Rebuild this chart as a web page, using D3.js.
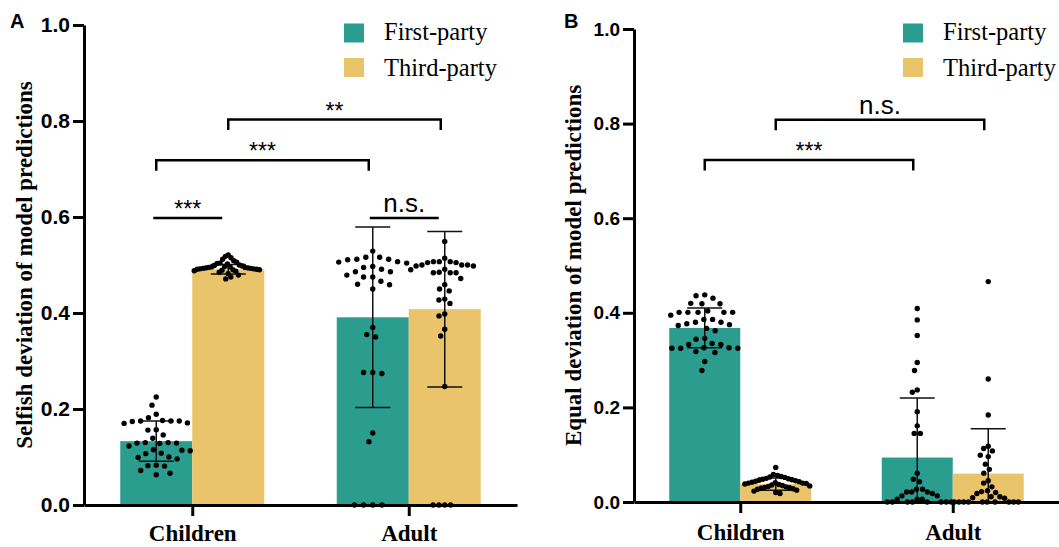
<!DOCTYPE html>
<html>
<head>
<meta charset="utf-8">
<script src="https://cdn.jsdelivr.net/npm/d3@7"></script>
<style>
  body { margin: 0; background: #fff; }
  svg { display: block; }
</style>
</head>
<body>
<svg id="chart" width="1059" height="547"></svg>
<script>
// categories
const groups = ['Children', 'Adult'];
const conditions = ['First-party', 'Third-party'];
const yTicks = [0, 0.2, 0.4, 0.6, 0.8, 1.0];

// panel A - selfish deviation, bar heights and SD  [group][condition]
const selfishMean = [[0.133, 0.491], [0.391, 0.408]];
const selfishSD = [[0.042, 0.010], [0.188, 0.162]];

// individual participants
const selfishChildFirst = [0.225, 0.208, 0.189, 0.182, 0.175, 0.175, 0.176, 0.174, 0.175, 0.171, 0.170,
  0.157, 0.156, 0.146, 0.139, 0.129, 0.130, 0.128, 0.129, 0.130, 0.123, 0.115, 0.114, 0.113, 0.108,
  0.107, 0.100, 0.099, 0.096, 0.082, 0.081, 0.083, 0.072, 0.066, 0.063];
const selfishChildThird = [0.521, 0.518, 0.515, 0.512, 0.509, 0.506, 0.504, 0.503, 0.502, 0.500, 0.499,
  0.498, 0.497, 0.496, 0.496, 0.495, 0.495, 0.494, 0.494, 0.493, 0.493, 0.492, 0.492, 0.491, 0.491,
  0.490, 0.490, 0.489, 0.488, 0.487, 0.485, 0.482, 0.479, 0.475, 0.471];
const selfishAdultFirst = [0.529, 0.504, 0.507, 0.512, 0.506, 0.516, 0.511, 0.512, 0.516, 0.486, 0.497,
  0.486, 0.495, 0.491, 0.475, 0.475, 0.466, 0.479, 0.459, 0.460, 0.450, 0.370, 0.350, 0.355, 0.276,
  0.276, 0.274, 0.150, 0.132, 0, 0, 0, 0];
const selfishAdultThird = [0.549, 0.514, 0.507, 0.505, 0.500, 0.498, 0.507, 0.500, 0.507, 0.491, 0.490,
  0.500, 0.505, 0.498, 0.484, 0.484, 0.484, 0.485, 0.472, 0.459, 0.450, 0.446, 0.429, 0.427, 0.420,
  0.398, 0.394, 0.366, 0.352, 0.247, 0, 0, 0, 0];

// panel B - equal deviation
const equalMean = [[0.368, 0.038], [0.094, 0.060]];
const equalSD = [[0.042, 0.013], [0.126, 0.095]];

const equalChildFirst = [0.436, 0.431, 0.438, 0.419, 0.419, 0.420, 0.401, 0.401, 0.401, 0.401, 0.401,
  0.395, 0.404, 0.386, 0.386, 0.380, 0.375, 0.380, 0.373, 0.377, 0.362, 0.367, 0.344, 0.346, 0.333,
  0.335, 0.333, 0.325, 0.318, 0.316, 0.325, 0.326, 0.326, 0.325, 0.297, 0.278];
const equalChildThird = [0.073, 0.058, 0.056, 0.054, 0.053, 0.052, 0.050, 0.049, 0.048, 0.047, 0.046,
  0.045, 0.044, 0.043, 0.042, 0.041, 0.040, 0.040, 0.039, 0.038, 0.037, 0.036, 0.035, 0.034, 0.033,
  0.032, 0.031, 0.030, 0.029, 0.028, 0.027, 0.025, 0.023, 0.020, 0.018];
const equalAdultFirst = [0.409, 0.385, 0.352, 0.295, 0.278, 0.237, 0.232, 0.191, 0.161, 0.145, 0.145,
  0.061, 0.048, 0.043, 0.027, 0.027, 0.021, 0.021, 0.021, 0.018, 0.013, 0.013, 0.006, 0.006, 0.006,
  0, 0, 0, 0, 0, 0, 0, 0];
const equalAdultThird = [0.466, 0.260, 0.184, 0.118, 0.113, 0.108, 0.099, 0.096, 0.080, 0.069, 0.061,
  0.045, 0.040, 0.032, 0.022, 0.020, 0.024, 0.018, 0.011, 0.011, 0.009, 0.008,
  0, 0, 0, 0, 0, 0, 0, 0, 0, 0];

// significance marks: from/to = [group, condition], level in axis units
const selfishSig = [
  { from: [0, 0], to: [0, 1], level: 0.598, label: '***', bracket: false },
  { from: [1, 0], to: [1, 1], level: 0.598, label: 'n.s.', bracket: false },
  { from: [0, 0], to: [1, 0], level: 0.718, label: '***', bracket: true },
  { from: [0, 1], to: [1, 1], level: 0.803, label: '**', bracket: true }
];
const equalSig = [
  { from: [0, 0], to: [1, 0], level: 0.723, label: '***', bracket: true },
  { from: [0, 1], to: [1, 1], level: 0.808, label: 'n.s.', bracket: true }
];

const colors = ['#2A9D8F', '#E9C46A'];
const serif = '"Liberation Serif", "Times New Roman", serif';
const sans = '"Liberation Sans", Arial, sans-serif';

const svg = d3.select('#chart');

// simple beeswarm: closest free offset to the centre, then squeezed to fit the bar
function swarm(values, y, D, maxHalf) {
  const pts = values.map(v => ({ v: v, py: y(v), dx: 0 })).sort((a, b) => a.py - b.py);
  const placed = [];
  pts.forEach(p => {
    const near = placed.filter(q => Math.abs(q.py - p.py) < D);
    const cands = [0];
    near.forEach(q => {
      const w = Math.sqrt(D * D - (q.py - p.py) ** 2);
      cands.push(q.dx - w, q.dx + w);
    });
    cands.sort((a, b) => Math.abs(a) - Math.abs(b));
    p.dx = cands.find(c => near.every(q => (q.dx - c) ** 2 + (q.py - p.py) ** 2 >= D * D - 0.01));
    placed.push(p);
  });
  const m = d3.max(pts, p => Math.abs(p.dx));
  if (m > maxHalf) pts.forEach(p => { p.dx *= maxHalf / m; });
  return pts;
}

function drawPanel(cfg) {
  const g = svg.append('g');

  const x = d3.scalePoint().domain(groups).range([cfg.left, cfg.right]).padding(0.5);
  const xc = d3.scaleBand().domain(conditions).range([-cfg.barW, cfg.barW]);
  const y = d3.scaleLinear().domain([0, 1]).range([cfg.bottom, cfg.top]);
  const cx = (gi, ci) => x(groups[gi]) + xc(conditions[ci]) + xc.bandwidth() / 2;

  // bars
  groups.forEach((grp, gi) => {
    conditions.forEach((cond, ci) => {
      g.append('rect')
        .attr('x', x(grp) + xc(cond))
        .attr('y', y(cfg.mean[gi][ci]))
        .attr('width', xc.bandwidth())
        .attr('height', y(0) - y(cfg.mean[gi][ci]))
        .attr('fill', colors[ci]);
    });
  });

  // error bars (SD), cut at zero
  groups.forEach((grp, gi) => {
    conditions.forEach((cond, ci) => {
      const m = cfg.mean[gi][ci], s = cfg.sd[gi][ci];
      const c = cx(gi, ci);
      const lo = Math.max(0, m - s), hi = m + s;
      const eb = g.append('g').attr('stroke', '#111').attr('stroke-width', 1.5);
      eb.append('line').attr('x1', c).attr('x2', c).attr('y1', y(lo)).attr('y2', y(hi));
      eb.append('line').attr('x1', c - 17.5).attr('x2', c + 17.5).attr('y1', y(hi)).attr('y2', y(hi));
      if (m - s >= 0) {
        eb.append('line').attr('x1', c - 17.5).attr('x2', c + 17.5).attr('y1', y(lo)).attr('y2', y(lo));
      }
    });
  });

  // axes
  const yAxis = g.append('g')
    .attr('transform', `translate(${cfg.left},0)`)
    .call(d3.axisLeft(y).tickValues(yTicks).tickSize(11).tickSizeOuter(0).tickPadding(3)
      .tickFormat(d3.format('.1f')));
  yAxis.selectAll('text')
    .attr('font-family', sans).attr('font-weight', 'bold').attr('font-size', cfg.tickFont).attr('fill', '#000');

  const xAxis = g.append('g')
    .attr('transform', `translate(0,${cfg.bottom})`)
    .call(d3.axisBottom(x).tickSize(11).tickSizeOuter(0).tickPadding(cfg.xPad));
  xAxis.selectAll('text')
    .attr('font-family', serif).attr('font-weight', 'bold').attr('font-size', 23).attr('fill', '#000');

  [yAxis, xAxis].forEach(a => {
    a.select('.domain').attr('stroke', '#000').attr('stroke-width', 3);
    a.selectAll('.tick line').attr('stroke', '#000').attr('stroke-width', 3);
  });

  // participant dots
  const dots = g.append('g').attr('fill', '#000');
  groups.forEach((grp, gi) => {
    conditions.forEach((cond, ci) => {
      const pts = swarm(cfg.points[gi][ci], y, 9.5, 34);
      dots.selectAll(null)
        .data(pts)
        .enter()
        .append('circle')
        .attr('cx', d => cx(gi, ci) + d.dx)
        .attr('cy', d => d.py)
        .attr('r', 2.7);
    });
  });

  // significance lines
  cfg.sig.forEach(s => {
    const x1 = cx(s.from[0], s.from[1]) + (s.bracket ? 0 : -3);
    const x2 = cx(s.to[0], s.to[1]) - (s.bracket ? 4 : 6);
    const ly = y(s.level);
    const path = s.bracket
      ? `M${x1},${ly + 10.5}V${ly}H${x2}V${ly + 10.5}`
      : `M${x1},${ly}H${x2}`;
    g.append('path').attr('d', path).attr('fill', 'none').attr('stroke', '#000').attr('stroke-width', 2.5);
    const ns = s.label === 'n.s.';
    g.append('text')
      .attr('x', (x1 + x2) / 2)
      .attr('y', ly - (ns ? 6 : 1))
      .attr('text-anchor', 'middle')
      .attr('font-family', sans)
      .attr('font-size', ns ? 26 : 23)
      .text(s.label);
  });

  // y axis title
  g.append('text')
    .attr('transform', `translate(${cfg.titleX},${(cfg.top + cfg.bottom) / 2}) rotate(-90)`)
    .attr('text-anchor', 'middle')
    .attr('font-family', serif).attr('font-weight', 'bold').attr('font-size', 23)
    .text(cfg.title);

  // legend
  conditions.forEach((cond, ci) => {
    g.append('rect')
      .attr('x', cfg.legendX).attr('y', 23.5 + ci * 34.5)
      .attr('width', 20).attr('height', 19)
      .attr('fill', colors[ci]);
    g.append('text')
      .attr('x', cfg.legendX + 40).attr('y', 40 + ci * 36)
      .attr('font-family', serif).attr('font-size', 24.5)
      .text(cond);
  });

  // panel letter
  g.append('text')
    .attr('x', cfg.letterX).attr('y', 28)
    .attr('font-family', sans).attr('font-weight', 'bold').attr('font-size', 20)
    .text(cfg.letter);
}

drawPanel({
  letter: 'A', letterX: 10,
  left: 84, right: 517, top: 25, bottom: 505, barW: 72,
  tickFont: 21, xPad: 9, titleX: 32, legendX: 344,
  title: 'Selfish deviation of model predictions',
  mean: selfishMean, sd: selfishSD,
  points: [[selfishChildFirst, selfishChildThird], [selfishAdultFirst, selfishAdultThird]],
  sig: selfishSig
});

drawPanel({
  letter: 'B', letterX: 564,
  left: 634, right: 1059, top: 29, bottom: 502, barW: 71,
  tickFont: 19, xPad: 11, titleX: 581, legendX: 903,
  title: 'Equal deviation of model predictions',
  mean: equalMean, sd: equalSD,
  points: [[equalChildFirst, equalChildThird], [equalAdultFirst, equalAdultThird]],
  sig: equalSig
});
</script>
</body>
</html>
